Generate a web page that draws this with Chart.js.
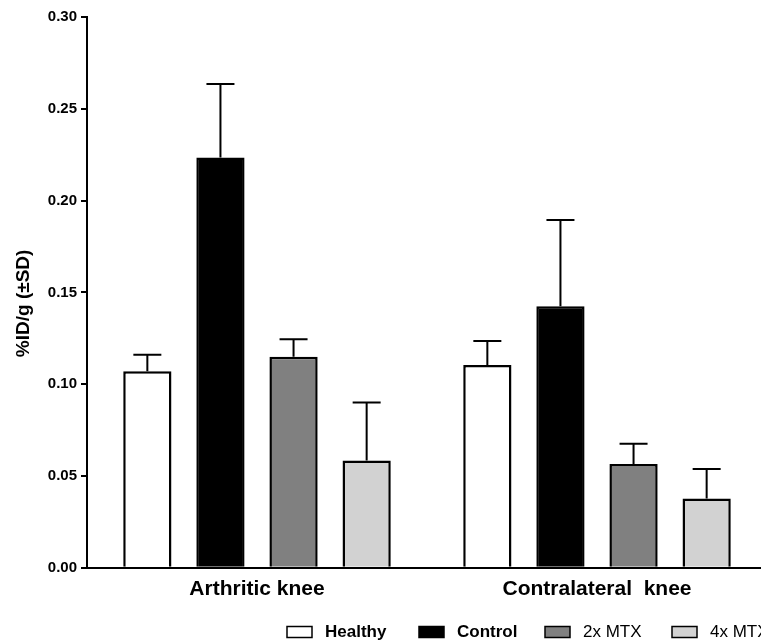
<!DOCTYPE html>
<html lang="en">
<head>
    <meta charset="UTF-8">
    <title>%ID/g (±SD) - Arthritic vs Contralateral knee</title>
    <style>
        html, body { margin: 0; padding: 0; background: #fff; overflow: hidden; }
        #myChart { display: block; }
    </style>
</head>
<body>
    <canvas id="myChart" width="770" height="641" aria-label="%ID/g bar chart" role="img"></canvas>

    <script src="https://cdn.jsdelivr.net/npm/chart.js@4.4.1/dist/chart.umd.min.js"></script>
    <script>
        // data
        var groups = ['Arthritic knee', 'Contralateral  knee'];
        var seriesNames = ['Healthy', 'Control', '2x MTX', '4x MTX'];
        var healthy = [0.107, 0.1105];
        var control = [0.2235, 0.1425];
        var mtx2x = [0.115, 0.0565];
        var mtx4x = [0.0585, 0.0378];
        var healthySD = [0.009, 0.013];
        var controlSD = [0.040, 0.047];
        var mtx2xSD = [0.0095, 0.011];
        var mtx4xSD = [0.0315, 0.016];
        var yTicks = [0, 0.05, 0.10, 0.15, 0.20, 0.25, 0.30];
        var yTitle = '%ID/g (±SD)';

        var fillColors = ['#ffffff', '#000000', '#808080', '#d2d2d2'];
        var boldLegend = [true, true, false, false];
        var FONT = '"Liberation Sans", Arial, sans-serif';

        var values = [healthy, control, mtx2x, mtx4x];
        var sds = [healthySD, controlSD, mtx2xSD, mtx4xSD];

        var datasets = seriesNames.map(function (name, i) {
            return {
                label: name,
                data: values[i],
                sd: sds[i],
                backgroundColor: fillColors[i],
                borderColor: '#000',
                borderWidth: 2.5,
                borderSkipped: 'start',
                categoryPercentage: 0.86,
                barPercentage: 0.66
            };
        });

        // upper error bars, drawn through the y scale
        var errorBars = {
            id: 'errorBars',
            afterDatasetsDraw: function (chart) {
                var ctx = chart.ctx;
                var yScale = chart.scales.y;
                ctx.save();
                ctx.strokeStyle = '#000';
                ctx.lineWidth = 2;
                chart.data.datasets.forEach(function (ds, i) {
                    chart.getDatasetMeta(i).data.forEach(function (bar, j) {
                        var top = yScale.getPixelForValue(ds.data[j] + ds.sd[j]);
                        ctx.beginPath();
                        ctx.moveTo(bar.x, bar.y);
                        ctx.lineTo(bar.x, top);
                        ctx.moveTo(bar.x - 14, top);
                        ctx.lineTo(bar.x + 14, top);
                        ctx.stroke();
                    });
                });
                ctx.restore();
            }
        };

        // y title sits a little below the axis middle in the original
        var yAxisTitle = {
            id: 'yAxisTitle',
            afterDraw: function (chart) {
                var ctx = chart.ctx;
                var area = chart.chartArea;
                ctx.save();
                ctx.translate(24, (area.top + area.bottom) / 2 + 11);
                ctx.rotate(-Math.PI / 2);
                ctx.fillStyle = '#000';
                ctx.font = 'bold 19px ' + FONT;
                ctx.textAlign = 'center';
                ctx.textBaseline = 'middle';
                ctx.fillText(yTitle, 0, 0);
                ctx.restore();
            }
        };

        // legend along the bottom, some labels bold like the original
        var bottomLegend = {
            id: 'bottomLegend',
            afterDraw: function (chart) {
                var ctx = chart.ctx;
                var starts = [287, 419, 545, 672];
                var yMid = 632;
                ctx.save();
                chart.data.datasets.forEach(function (ds, i) {
                    var x = starts[i];
                    ctx.fillStyle = ds.backgroundColor;
                    ctx.fillRect(x, yMid - 5.5, 25, 11);
                    ctx.strokeStyle = '#000';
                    ctx.lineWidth = 1.5;
                    ctx.strokeRect(x, yMid - 5.5, 25, 11);
                    ctx.fillStyle = '#000';
                    ctx.font = (boldLegend[i] ? 'bold ' : '') + '17px ' + FONT;
                    ctx.textBaseline = 'middle';
                    ctx.fillText(ds.label, x + 38, yMid);
                });
                ctx.restore();
            }
        };

        new Chart(document.getElementById('myChart'), {
            type: 'bar',
            data: { labels: groups, datasets: datasets },
            plugins: [errorBars, yAxisTitle, bottomLegend],
            options: {
                responsive: false,
                animation: false,
                layout: { padding: { top: 17, right: 3, bottom: 30, left: 0 } },
                plugins: {
                    legend: { display: false },
                    tooltip: { enabled: false }
                },
                scales: {
                    x: {
                        grid: { display: false, drawTicks: false },
                        border: { display: true, color: '#000', width: 2 },
                        ticks: {
                            color: '#000',
                            padding: 9,
                            font: { family: FONT, size: 21, weight: 'bold' }
                        }
                    },
                    y: {
                        min: 0,
                        max: 0.3,
                        afterFit: function (scale) { scale.width = 87; },
                        afterBuildTicks: function (scale) {
                            scale.ticks = yTicks.map(function (v) { return { value: v }; });
                        },
                        grid: { drawOnChartArea: false, tickLength: 6, color: '#000', lineWidth: 2 },
                        border: { color: '#000', width: 2 },
                        ticks: {
                            color: '#000',
                            padding: 4,
                            font: { family: FONT, size: 15, weight: 'bold' },
                            callback: function (v) { return Number(v).toFixed(2); }
                        }
                    }
                }
            }
        });
    </script>
</body>
</html>
